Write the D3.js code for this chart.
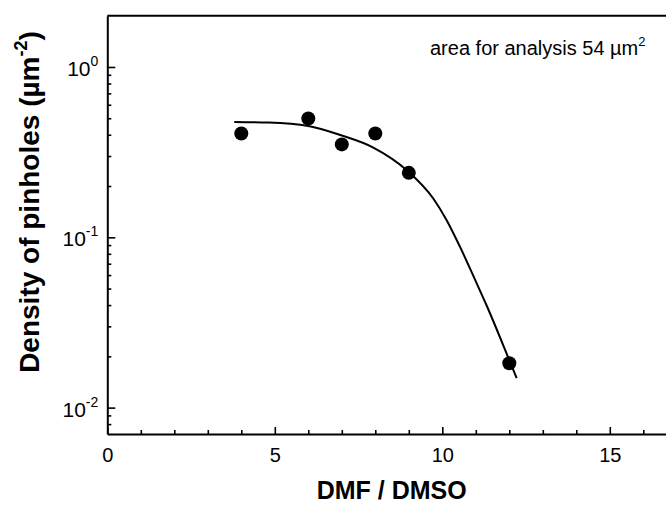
<!DOCTYPE html>
<html>
<head>
<meta charset="utf-8">
<script src="https://cdn.jsdelivr.net/npm/d3@7"></script>
<style>
  html, body { margin: 0; padding: 0; background: #fff; }
  svg { display: block; }
  text { font-family: "Liberation Sans", Arial, Helvetica, sans-serif; fill: #000; }
</style>
</head>
<body>
<svg id="chart" width="666" height="505"></svg>
<script>
// Measured pinhole density vs. DMF/DMSO ratio
const ratio   = [4, 6, 7, 8, 9, 12];
const density = [0.407, 0.498, 0.351, 0.407, 0.239, 0.0182];

// Fitted trend line (sampled points)
const fitRatio   = [3.79, 4.81, 6.00, 6.98, 7.94, 8.94, 9.73, 10.13, 10.53, 10.98, 11.33, 12.01, 12.22];
const fitDensity = [0.4756, 0.4718, 0.4505, 0.3972, 0.3365, 0.2476, 0.1689, 0.1260, 0.0878, 0.0562, 0.0395, 0.0188, 0.0149];

// Axis ticks
const xMajorTicks = [0, 5, 10, 15];
const xMinorTicks = [1, 2, 3, 4, 6, 7, 8, 9, 11, 12, 13, 14, 16, 17];
const yMajorExponents = [0, -1, -2];
const yMinorTicks = [0.008, 0.009,
  0.02, 0.03, 0.04, 0.05, 0.06, 0.07, 0.08, 0.09,
  0.2, 0.3, 0.4, 0.5, 0.6, 0.7, 0.8, 0.9];

const svg = d3.select("#chart");
const plotLeft = 107.3, plotRight = 676.8, plotTop = 15.7, plotBottom = 434;

const x = d3.scaleLinear().domain([0, 17]).range([plotLeft, plotRight]);
const y = d3.scaleLog().domain([0.007, 2]).range([plotBottom, plotTop]);

// Frame (top and right edges)
svg.append("path")
  .attr("d", `M${plotLeft},${plotTop}H${plotRight}V${plotBottom}`)
  .attr("fill", "none").attr("stroke", "#000").attr("stroke-width", 2);

// Bottom axis: minor ticks
svg.append("g")
  .attr("transform", `translate(0,${plotBottom})`)
  .call(d3.axisBottom(x).tickValues(xMinorTicks).tickSize(-4).tickSizeOuter(0).tickFormat(""))
  .call(g => g.selectAll("line").attr("stroke-width", 1.6))
  .call(g => g.select(".domain").remove());

// Bottom axis: major ticks with labels
svg.append("g")
  .attr("transform", `translate(0,${plotBottom})`)
  .call(d3.axisBottom(x).tickValues(xMajorTicks).tickSize(-7).tickSizeOuter(0)
    .tickPadding(13.8).tickFormat(d3.format("d")))
  .call(g => g.select(".domain").attr("stroke-width", 2))
  .call(g => g.selectAll("line").attr("stroke-width", 1.6))
  .call(g => g.selectAll("text")
    .attr("font-size", 20)
    .attr("font-family", '"Liberation Sans", Arial, sans-serif'));

// Left axis: minor ticks
svg.append("g")
  .attr("transform", `translate(${plotLeft},0)`)
  .call(d3.axisLeft(y).tickValues(yMinorTicks).tickSize(-4).tickSizeOuter(0).tickFormat(""))
  .call(g => g.selectAll("line").attr("stroke-width", 1.6))
  .call(g => g.select(".domain").remove());

// Left axis: decades
svg.append("g")
  .attr("transform", `translate(${plotLeft},0)`)
  .call(d3.axisLeft(y).tickValues(yMajorExponents.map(e => Math.pow(10, e)))
    .tickSize(-8).tickSizeOuter(0).tickFormat(""))
  .call(g => g.select(".domain").attr("stroke-width", 2))
  .call(g => g.selectAll("line").attr("stroke-width", 1.6));

// Decade labels as 10 with superscript exponent
const yLabels = svg.append("g");
yMajorExponents.forEach(e => {
  const t = yLabels.append("text")
    .attr("x", plotLeft - 9)
    .attr("y", y(Math.pow(10, e)) + 9)
    .attr("text-anchor", "end")
    .attr("font-size", 21);
  t.append("tspan").text("10");
  t.append("tspan").attr("font-size", 14).attr("dy", -10).text(String(e));
});

// Fitted curve
svg.append("path")
  .datum(fitRatio.map((r, i) => [r, fitDensity[i]]))
  .attr("fill", "none")
  .attr("stroke", "#000")
  .attr("stroke-width", 2)
  .attr("d", d3.line().x(d => x(d[0])).y(d => y(d[1])).curve(d3.curveMonotoneX));

// Data points
svg.append("g")
  .selectAll("circle")
  .data(ratio.map((r, i) => [r, density[i]]))
  .join("circle")
  .attr("cx", d => x(d[0]))
  .attr("cy", d => y(d[1]))
  .attr("r", 7)
  .attr("fill", "#000");

// Annotation
const note = svg.append("text")
  .attr("x", 430).attr("y", 55)
  .attr("font-size", 20);
note.append("tspan").text("area for analysis 54 \u00B5m");
note.append("tspan").attr("font-size", 13).attr("dy", -9).text("2");

// Axis titles
svg.append("text")
  .attr("x", 391.7).attr("y", 499)
  .attr("text-anchor", "middle")
  .attr("font-size", 25)
  .attr("font-weight", "bold")
  .text("DMF / DMSO");

const yTitle = svg.append("text")
  .attr("transform", "translate(39,202) rotate(-90)")
  .attr("text-anchor", "middle")
  .attr("font-size", 28)
  .attr("font-weight", "bold");
yTitle.append("tspan").text("Density of pinholes (\u00B5m");
yTitle.append("tspan").attr("font-size", 18).attr("dy", -12).text("-2");
yTitle.append("tspan").attr("dy", 12).text(")");
</script>
</body>
</html>
